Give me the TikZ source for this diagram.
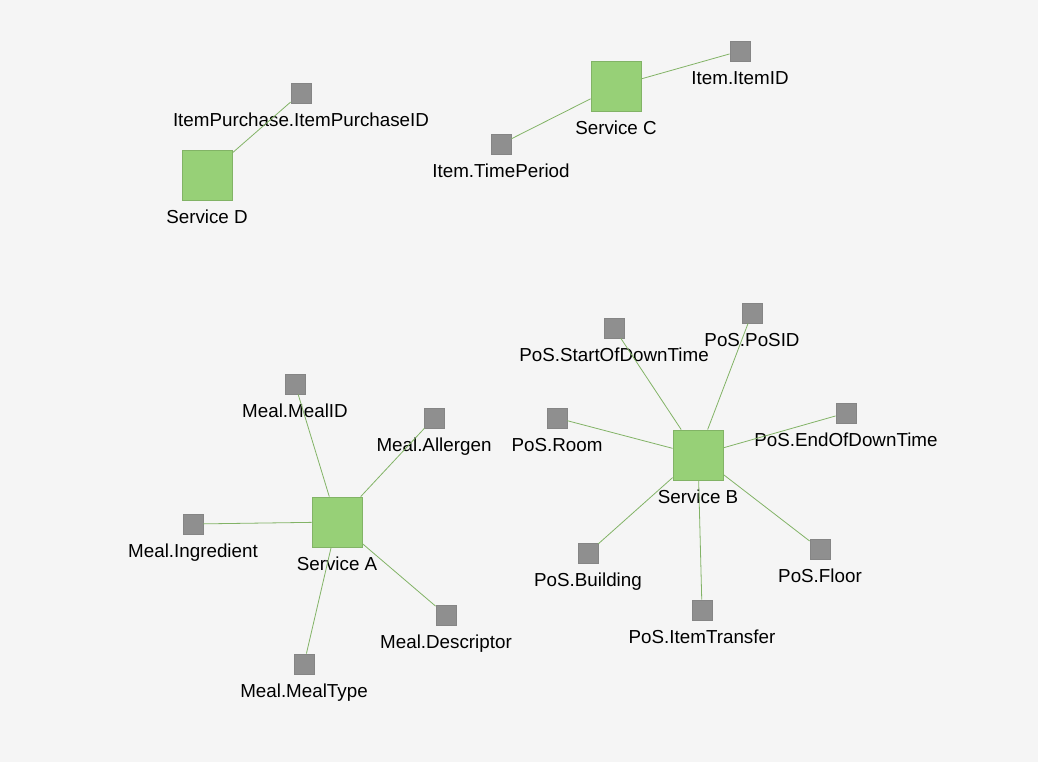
\documentclass[tikz,border=0pt]{standalone}
\usepackage{fontspec}
\setmainfont{Liberation Sans}
\usetikzlibrary{shapes}

\definecolor{bgcol}{HTML}{F5F5F5}
\definecolor{svcfill}{HTML}{97D077}
\definecolor{svcline}{HTML}{82B366}
\definecolor{fldfill}{HTML}{8F8F8F}
\definecolor{fldline}{HTML}{858585}

\begin{document}
\begin{tikzpicture}[
			x=1pt, y=-1pt,
			label distance=8.5pt,
			every label/.style={font=\fontsize{18.8}{22}\selectfont, text height=14pt, text depth=4pt, inner sep=0pt},
			service/.style={draw=svcline, fill=svcfill, rectangle, minimum size=50pt, inner sep=0pt, line width=0.8pt},
			field/.style={draw=fldline, fill=fldfill, rectangle, minimum size=20pt, inner sep=0pt, line width=0.8pt},
			link/.style={draw=svcline, line width=0.8pt}
			]
			% --- Tlo i rozmiar obrazka ---
			\fill[bgcol] (0,0) rectangle (1038,762);
			
			% --- Service D ---
			\node[service, label=below:Service D] (svcD) at (207,175) {};
			\node[field, label=below:ItemPurchase.ItemPurchaseID] (purchaseID) at (301,93) {};
			
			% --- Service C ---
			\node[service, label=below:Service C] (svcC) at (616,86) {};
			\node[field, label=below:Item.ItemID] (itemID) at (740,51) {};
			\node[field, label=below:Item.TimePeriod] (timePeriod) at (501,144) {};
			
			% --- Service A ---
			\node[service, label=below:Service A] (svcA) at (337,522) {};
			\node[field, label=below:Meal.MealID] (mealID) at (295,384) {};
			\node[field, label=below:Meal.Allergen] (allergen) at (434,418) {};
			\node[field, label=below:Meal.Ingredient] (ingredient) at (193,524) {};
			\node[field, label=below:Meal.Descriptor] (descriptor) at (446,615) {};
			\node[field, label=below:Meal.MealType] (mealType) at (304,664) {};
			
			% --- Service B ---
			\node[service, label=below:Service B] (svcB) at (698,455) {};
			\node[field, label=below:PoS.StartOfDownTime] (startDown) at (614,328) {};
			\node[field, label=below:PoS.PoSID] (posID) at (752,313) {};
			\node[field, label=below:PoS.Room] (room) at (557,418) {};
			\node[field, label=below:PoS.EndOfDownTime] (endDown) at (846,413) {};
			\node[field, label=below:PoS.Building] (building) at (588,553) {};
			\node[field, label=below:PoS.Floor] (floor) at (820,549) {};
			\node[field, label=below:PoS.ItemTransfer] (transfer) at (702,610) {};
			
			% --- Polaczenia ---
			\draw[link] (svcD) -- (purchaseID);
			\draw[link] (svcC) -- (itemID);
			\draw[link] (svcC) -- (timePeriod);
			\foreach \f in {mealID, allergen, ingredient, descriptor, mealType}
				\draw[link] (svcA) -- (\f);
			\foreach \f in {startDown, posID, room, endDown, building, floor, transfer}
				\draw[link] (svcB) -- (\f);
			
		\end{tikzpicture}
\end{document}
